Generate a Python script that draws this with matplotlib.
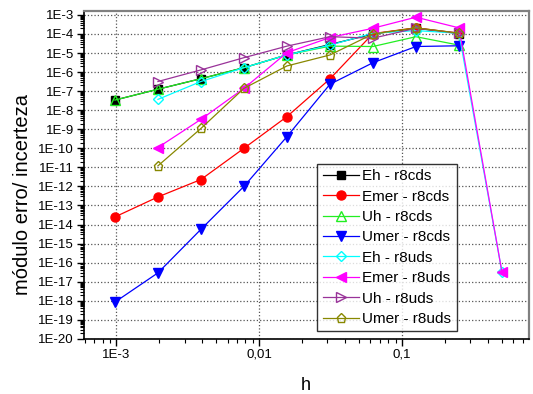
import numpy as np
import matplotlib
matplotlib.use("Agg")
import matplotlib.pyplot as plt
from matplotlib.ticker import LogLocator, FuncFormatter, NullFormatter

plt.rcParams['font.family'] = ['Liberation Sans', 'DejaVu Sans']

# grid spacings
h_cds = [9.765625e-4, 1.953125e-3, 3.90625e-3, 7.8125e-3, 1.5625e-2, 3.125e-2, 6.25e-2, 0.125, 0.25]
h_uds = [1.953125e-3, 3.90625e-3, 7.8125e-3, 1.5625e-2, 3.125e-2, 6.25e-2, 0.125, 0.25, 0.5]
h_uds2 = [1.953125e-3, 3.90625e-3, 7.8125e-3, 1.5625e-2, 3.125e-2, 6.25e-2, 0.125, 0.25]

# error / uncertainty modulus
eh_cds = [3.4e-8, 1.26e-7, 4.5e-7, 1.7e-6, 8e-6, 2.8e-5, 1.0e-4, 2.0e-4, 1.05e-4]
emer_cds = [2.5e-14, 2.8e-13, 2.3e-12, 1.0e-10, 4.6e-9, 4.4e-7, 1.05e-4, 2.1e-4, 1.1e-4]
uh_cds = [3.4e-8, 1.26e-7, 4.5e-7, 1.7e-6, 8e-6, 2.3e-5, 2.2e-5, 7.2e-5, 2.6e-5]
umer_cds = [8.5e-19, 2.9e-17, 5.6e-15, 1.0e-12, 4.1e-10, 2.3e-7, 3.1e-6, 2.2e-5, 2.4e-5]
eh_uds = [3.7e-8, 3.2e-7, 1.7e-6, 8e-6, 2.6e-5, 1.1e-4, 1.5e-4, 1.1e-4, 3.2e-17]
emer_uds = [1.1e-10, 3.3e-9, 1.4e-7, 1.05e-5, 6.5e-5, 2.0e-4, 7.6e-4, 2.1e-4, 3.2e-17]
uh_uds = [3.2e-7, 1.3e-6, 5.7e-6, 2.3e-5, 7.2e-5, 6.0e-5, 2.0e-4, 1.1e-4]
umer_uds = [1.2e-11, 1.1e-9, 1.4e-7, 2.1e-6, 7.9e-6, 1.0e-4, 2.1e-4, 1.1e-4]

fig = plt.figure(figsize=(5.33, 3.94), dpi=100)
ax = fig.add_axes([0.157, 0.14, 0.835, 0.832])

ms = 6.5
lw = 0.9
ax.plot(h_cds, eh_cds, '-s', color='black', lw=lw, ms=ms - 0.5, label='Eh - r8cds')
ax.plot(h_cds, emer_cds, '-o', color='red', lw=lw, ms=ms, label='Emer - r8cds')
ax.plot(h_cds, uh_cds, '-^', color='#22ee22', lw=lw, ms=ms, mfc='none', mew=1, label='Uh - r8cds')
ax.plot(h_cds, umer_cds, '-v', color='blue', lw=lw, ms=ms, label='Umer - r8cds')
ax.plot(h_uds, eh_uds, '-D', color='cyan', lw=lw, ms=ms - 1, mfc='none', mew=1, label='Eh - r8uds')
ax.plot(h_uds, emer_uds, '-<', color='magenta', lw=lw, ms=ms, label='Emer - r8uds')
ax.plot(h_uds2, uh_uds, '->', color='#993399', lw=lw, ms=ms, mfc='none', mew=1, label='Uh - r8uds')
ax.plot(h_uds2, umer_uds, '-p', color='#888800', lw=lw, ms=ms, mfc='none', mew=1, label='Umer - r8uds')

ax.set_xscale('log')
ax.set_yscale('log')
ax.set_xlim(5.9e-4, 0.77)
ax.set_ylim(1e-20, 1.6e-3)

ax.yaxis.set_major_locator(LogLocator(base=10, numticks=40))
ax.yaxis.set_minor_locator(LogLocator(base=10, subs=np.arange(2, 10), numticks=40))
ax.yaxis.set_minor_formatter(NullFormatter())
ax.xaxis.set_major_locator(LogLocator(base=10, numticks=20))
ax.xaxis.set_minor_locator(LogLocator(base=10, subs=np.arange(2, 10), numticks=20))
ax.xaxis.set_minor_formatter(NullFormatter())

ax.yaxis.set_major_formatter(FuncFormatter(lambda v, p: '1E%d' % round(np.log10(v))))
xlab = {-3: '1E-3', -2: '0,01', -1: '0,1'}
ax.xaxis.set_major_formatter(FuncFormatter(lambda v, p: xlab.get(int(round(np.log10(v))), '')))

ax.tick_params(which='major', direction='out', length=5, width=1, labelsize=9.5, pad=2)
ax.tick_params(which='minor', direction='out', length=3, width=0.8)

ax.grid(True, which='major', linestyle=':', color='#555555', linewidth=0.9)

for s in ['top', 'right']:
    ax.spines[s].set_color('#808080')
    ax.spines[s].set_linewidth(1.6)
for s in ['left', 'bottom']:
    ax.spines[s].set_linewidth(1.2)

ax.set_xlabel('h', fontsize=13, labelpad=12)
ax.set_ylabel('módulo erro/ incerteza', fontsize=14.5)
ax.yaxis.set_label_coords(-0.115, 0.44)

leg = ax.legend(loc='upper left', bbox_to_anchor=(0.525, 0.534), borderaxespad=0,
                fancybox=False, frameon=True, edgecolor='black', fontsize=11,
                handlelength=2.4, handletextpad=0.2, labelspacing=0.42, borderpad=0.35)
leg.get_frame().set_linewidth(1.0)

plt.savefig('out.png', dpi=100)
